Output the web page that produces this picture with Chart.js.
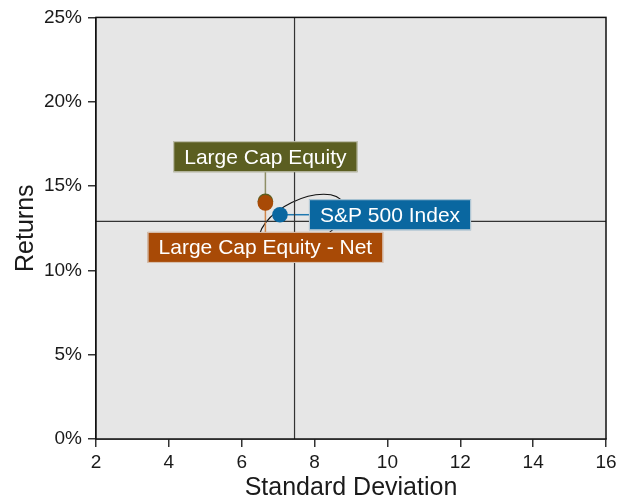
<!DOCTYPE html>
<html>
<head>
<meta charset="utf-8">
<script src="https://cdn.jsdelivr.net/npm/chart.js@4.4.1/dist/chart.umd.min.js"></script>
<style>
  html, body { margin: 0; padding: 0; background: #ffffff; }
  #wrap { width: 630px; height: 500px; }
</style>
</head>
<body>
<div id="wrap"><canvas id="c" width="630" height="500"></canvas></div>
<script>
// Risk / return of each portfolio
const seriesNames = ['Large Cap Equity', 'Large Cap Equity - Net', 'S&P 500 Index'];
const stdDev      = [6.65, 6.65, 7.05];
const returns     = [14.1, 14.0, 13.3];
const seriesColors = ['#5b5e21', '#a84a06', '#0a67a0'];
const connectorColors = ['#8e8e66', '#d0864a', '#1f78b0'];
const labelSides  = ['above', 'below', 'right'];
const drawOrder   = [3, 2, 1];   // lower value is painted on top

// Reference crosshair (benchmark risk / return)
const crossX = 7.45;
const crossY = 12.9;

// Axis ticks
const xTicks = [2, 4, 6, 8, 10, 12, 14, 16];
const yTicks = [0, 5, 10, 15, 20, 25];

const FONT = "'Liberation Sans', Arial, sans-serif";

const pointSets = seriesNames.map((name, i) => ({
  label: name,
  data: [{ x: stdDev[i], y: returns[i] }],
  backgroundColor: seriesColors[i],
  borderWidth: 0,
  pointRadius: 7.8,
  pointHoverRadius: 7.8,
  showLine: false,
  order: drawOrder[i]
}));

const crossSets = [
  { label: 'vx', data: [{ x: crossX, y: yTicks[0] }, { x: crossX, y: yTicks[yTicks.length - 1] }] },
  { label: 'hy', data: [{ x: xTicks[0], y: crossY }, { x: xTicks[xTicks.length - 1], y: crossY }] }
].map(d => Object.assign(d, {
  showLine: true, borderColor: '#333333', borderWidth: 1.2, pointRadius: 0, pointHoverRadius: 0, order: 5
}));

// Panel background and outline
const panelPlugin = {
  id: 'panel',
  beforeDatasetsDraw(chart) {
    const { ctx, chartArea: a } = chart;
    ctx.save();
    ctx.fillStyle = '#e6e6e6';
    ctx.fillRect(a.left, a.top, a.right - a.left, a.bottom - a.top);
    ctx.restore();
  },
  afterDatasetsDraw(chart) {
    const { ctx, chartArea: a } = chart;
    ctx.save();
    ctx.strokeStyle = '#111';
    ctx.lineWidth = 1.5;
    ctx.strokeRect(a.left, a.top, a.right - a.left, a.bottom - a.top);
    ctx.restore();
  }
};

// Thin loop drawn around the cluster of portfolios
const loopPlugin = {
  id: 'loop',
  beforeDatasetsDraw(chart, args, o) {
    const { ctx, scales: { x, y } } = chart;
    ctx.save();
    ctx.beginPath();
    ctx.ellipse(x.getPixelForValue(o.cx), y.getPixelForValue(o.cy), o.rx, o.ry, o.rot * Math.PI / 180, 0, Math.PI * 2);
    ctx.strokeStyle = '#111';
    ctx.lineWidth = 1.2;
    ctx.stroke();
    ctx.restore();
  }
};

function labelBoxes(chart, o) {
  const { ctx, scales: { x, y } } = chart;
  ctx.font = o.size + 'px ' + FONT;
  return seriesNames.map((name, i) => {
    const px = x.getPixelForValue(stdDev[i]);
    const py = y.getPixelForValue(returns[i]);
    const w = ctx.measureText(name).width + o.padX * 2;
    const h = o.h;
    let bx, by;
    if (labelSides[i] === 'above') { bx = px - w / 2; by = py - o.gap - h; }
    else if (labelSides[i] === 'below') { bx = px - w / 2; by = py + o.gap; }
    else { bx = px + o.gap; by = py - h / 2; }
    return { name, i, px, py, bx, by, w, h };
  });
}

// Name callouts with their connector lines
const labelPlugin = {
  id: 'callouts',
  beforeDatasetsDraw(chart, args, o) {
    const { ctx } = chart;
    ctx.save();
    labelBoxes(chart, o).forEach(b => {
      ctx.beginPath();
      ctx.strokeStyle = connectorColors[b.i];
      ctx.lineWidth = 1.5;
      if (labelSides[b.i] === 'above') { ctx.moveTo(b.px, b.by + b.h); ctx.lineTo(b.px, b.py); }
      else if (labelSides[b.i] === 'below') { ctx.moveTo(b.px, b.py); ctx.lineTo(b.px, b.by); }
      else { ctx.moveTo(b.px, b.py); ctx.lineTo(b.bx, b.py); }
      ctx.stroke();
    });
    ctx.restore();
  },
  afterDatasetsDraw(chart, args, o) {
    const { ctx } = chart;
    ctx.save();
    labelBoxes(chart, o).forEach(b => {
      ctx.fillStyle = seriesColors[b.i];
      ctx.fillRect(b.bx, b.by, b.w, b.h);
      ctx.strokeStyle = 'rgba(230,230,230,0.8)';
      ctx.lineWidth = 1;
      ctx.strokeRect(b.bx + 0.5, b.by + 0.5, b.w - 1, b.h - 1);
      ctx.fillStyle = '#ffffff';
      ctx.font = o.size + 'px ' + FONT;
      ctx.textAlign = 'center';
      ctx.textBaseline = 'middle';
      ctx.fillText(b.name, b.bx + b.w / 2, b.by + b.h / 2 + 1);
    });
    ctx.restore();
  }
};

new Chart(document.getElementById('c'), {
  type: 'scatter',
  data: { datasets: [...crossSets, ...pointSets] },
  options: {
    responsive: false,
    animation: false,
    events: [],
    layout: { padding: { top: 17, right: 24, bottom: 0, left: 0 } },
    plugins: {
      legend: { display: false },
      tooltip: { enabled: false },
      loop: { cx: 7.65, cy: 12.8, rx: 46, ry: 23, rot: -26 },
      callouts: { size: 21, padX: 11, h: 31, gap: 29 }
    },
    scales: {
      x: {
        type: 'linear',
        min: xTicks[0],
        max: xTicks[xTicks.length - 1],
        afterBuildTicks: s => { s.ticks = xTicks.map(v => ({ value: v })); },
        afterFit: s => { s.height = 61; },
        ticks: { color: '#1a1a1a', font: { family: FONT, size: 19 }, padding: 4, maxRotation: 0 },
        grid: { drawOnChartArea: false, drawTicks: true, tickLength: 8, color: '#333', lineWidth: 1.5 },
        border: { display: true, color: '#111', width: 1.5 },
        title: { display: true, text: 'Standard Deviation', color: '#1a1a1a',
                 font: { family: FONT, size: 25, lineHeight: 1 }, padding: { top: 0, bottom: -0.5 } }
      },
      y: {
        type: 'linear',
        min: yTicks[0],
        max: yTicks[yTicks.length - 1],
        afterBuildTicks: s => { s.ticks = yTicks.map(v => ({ value: v })); },
        afterFit: s => { s.width = 96; },
        ticks: { color: '#1a1a1a', font: { family: FONT, size: 19 }, padding: 6, callback: v => v + '%' },
        grid: { drawOnChartArea: false, drawTicks: true, tickLength: 8, color: '#333', lineWidth: 1.5 },
        border: { display: true, color: '#111', width: 1.5 },
        title: { display: true, text: 'Returns', color: '#1a1a1a',
                 font: { family: FONT, size: 25, lineHeight: 1 }, padding: { top: 14, bottom: 0 } }
      }
    }
  },
  plugins: [panelPlugin, loopPlugin, labelPlugin]
});
</script>
</body>
</html>
